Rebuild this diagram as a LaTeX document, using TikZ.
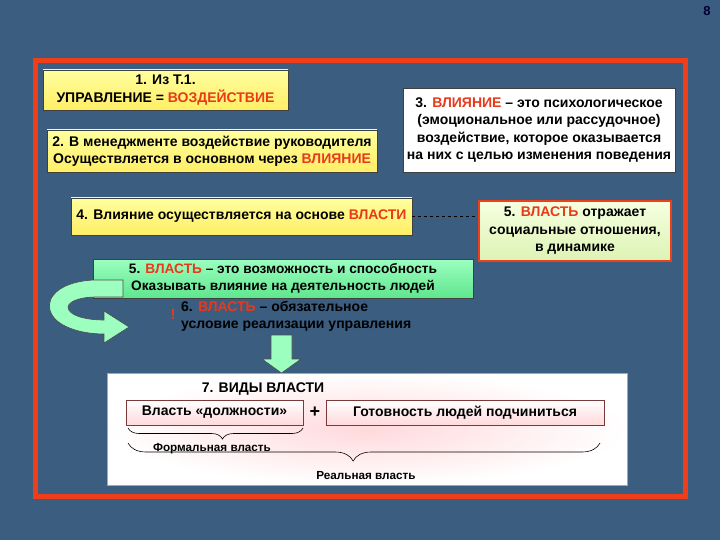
\documentclass[tikz,border=0pt]{standalone}
\usepackage{fontspec}
\setmainfont{Liberation Sans}
\usetikzlibrary{decorations.pathreplacing,calc}
\definecolor{bg}{HTML}{3A5D80}
\definecolor{framecol}{HTML}{EE3F1A}
\definecolor{rd}{HTML}{E83A1A}
\definecolor{ylo}{HTML}{FFFF9E}
\definecolor{yhi}{HTML}{FFEE66}
\definecolor{gr1}{HTML}{9CFFC0}
\definecolor{gr2}{HTML}{5FE68E}
\definecolor{lg1}{HTML}{F6FFE0}
\definecolor{lg2}{HTML}{DDF3B4}
\definecolor{pk}{HTML}{FFD9DC}
\definecolor{subbd}{HTML}{7A3A3A}
\newcommand{\rt}[1]{\textcolor{rd}{#1}}
\begin{document}
\begin{tikzpicture}[x=1pt,y=-1pt,
  txt/.style={font=\bfseries\fontsize{14}{17.5}\selectfont, align=center, inner sep=0pt},
  ybox/.style={txt, draw=black!75, line width=0.6pt, top color=ylo, bottom color=yhi},
  wbox/.style={txt, draw=black!75, line width=0.6pt, fill=white},
  gbox/.style={txt, draw=black!75, line width=0.6pt, top color=gr1, bottom color=gr2},
  obox/.style={txt, draw=framecol, line width=2.5pt, top color=lg1, bottom color=lg2},
  pbox/.style={txt, draw=subbd, line width=0.6pt, top color=white, bottom color=pk},
  brc/.style={decorate, decoration={brace, mirror, amplitude=11pt}, draw=black, line width=0.6pt},
  small/.style={txt, font=\bfseries\fontsize{11.7}{13}\selectfont},
  blk/.style={fill=gr1, draw=black!70, line width=0.6pt}
]
\useasboundingbox (0,0) rectangle (720,540);
\fill[bg] (0,0) rectangle (720,540);
\node[font=\bfseries\fontsize{13}{13}\selectfont, text=black!80!blue] (pg) at (707,11) {8};
\draw[framecol, line width=5pt] (35,61) rectangle (685,496) ;

% box 1
\node[ybox, minimum width=245pt, minimum height=40pt] (b1) at (165.5,90)
  {1. Из Т.1.\\УПРАВЛЕНИЕ = \rt{ВОЗДЕЙСТВИЕ}};
% box 2
\node[ybox, minimum width=330pt, minimum height=42pt] (b2) at (212,151)
  {2. В менеджменте воздействие руководителя\\Осуществляется в основном через \rt{ВЛИЯНИЕ}};
% box 3
\node[wbox, minimum width=272pt, minimum height=84pt] (b3) at (539,130)
  {3. \rt{ВЛИЯНИЕ} -- это психологическое\\(эмоциональное или рассудочное)\\воздействие, которое оказывается\\на них с целью изменения поведения};
% box 4
\node[ybox, minimum width=341pt, minimum height=37pt] (b4) at (241.5,216.5)
  {4. Влияние осуществляется на основе \rt{ВЛАСТИ}};
% box 5 right
\node[obox, minimum width=192pt, minimum height=60pt] (b5) at (575,231)
  {5. \rt{ВЛАСТЬ} отражает\\социальные отношения,\\в динамике};
\draw[dashed, line width=0.6pt] (b4.east) -- (b4.east -| b5.west);

% box 6 green
\node[gbox, minimum width=380pt, minimum height=39pt, font=\bfseries\fontsize{13.7}{17}\selectfont] (b6) at (283,278.5)
  {5. \rt{ВЛАСТЬ} -- это возможность и способность\\Оказывать влияние на деятельность людей};

% curved arrow
\draw[blk] (123,280) -- (95,280) .. controls (62,281) and (46,296) .. (50,310)
  .. controls (54,326) and (80,334) .. (104,334) -- (104,343) -- (129,327)
  -- (104,311) -- (104,320) .. controls (84,320) and (68,315) .. (68,307)
  .. controls (69,300) and (84,297) .. (95,297) -- (123,297) -- cycle;

% text 6
\node[txt, text=rd, font=\bfseries\fontsize{15}{15}\selectfont] (ex) at (173,314) {!};
\node[txt, align=left, anchor=west, font=\bfseries\fontsize{14}{17}\selectfont] (t6) at (181,316.5)
  {6. \rt{ВЛАСТЬ} -- обязательное\\ условие реализации управления};

% down arrow
\draw[blk] (271,335) -- (292,335) -- (292,359) -- (301,359) -- (281.5,373)
  -- (262,359) -- (271,359) -- cycle;

% box 7
\node[draw=black!35, line width=0.6pt, inner color=pk, outer color=white,
  minimum width=520pt, minimum height=112pt, inner sep=0pt] (b7) at (367,429) {};
\node[txt] (t7) at (263,389) {7. ВИДЫ ВЛАСТИ};
\node[pbox, minimum width=177pt, minimum height=25pt] (s1) at (214.5,412.5) {Власть «должности»};
\node[txt, font=\bfseries\fontsize{18}{18}\selectfont] (plus) at (315,412) {+};
\node[pbox, minimum width=278pt, minimum height=25pt] (s2) at (465,412.5) {Готовность людей подчиниться};
\coordinate (br1a) at (128,428);
\coordinate (br1b) at (303,428);
\draw[brc, decoration={aspect=0.54}] (br1a) -- (br1b);
\node[small] (f1) at (212,449) {Формальная власть};
\coordinate (br2a) at (128,443);
\coordinate (br2b) at (600,443);
\draw[brc, decoration={aspect=0.477, amplitude=18pt}] (br2a) -- (br2b);
\node[small] (f2) at (366,476) {Реальная власть};
\end{tikzpicture}
\end{document}
